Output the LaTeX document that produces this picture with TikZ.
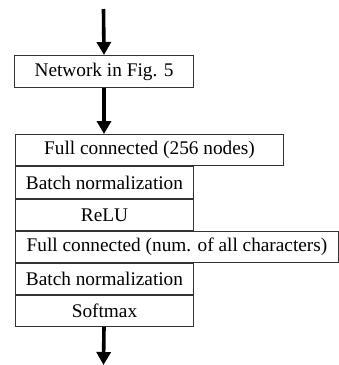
\documentclass[tikz,border=0pt]{standalone}
\usepackage{fontspec}
\setmainfont{Liberation Serif}
\usetikzlibrary{positioning, arrows.meta}

\begin{document}
\begin{tikzpicture}[
    x=1pt, y=1pt,
    layer/.style={draw=black!80, line width=1pt, rectangle, inner sep=0pt,
        minimum height=31pt, font=\fontsize{19.3}{22}\selectfont},
    flow/.style={-{Triangle[length=13pt, width=14pt]}, line width=3.6pt}
]
\useasboundingbox (0,0) rectangle (339,-365);

\node[layer, minimum width=179pt, minimum height=32pt, anchor=north west] (net)
    at (14,-55) {Network in Fig. 5};

\node[layer, minimum width=268pt, anchor=north west] (fcA) at (15,-134)
    {Full connected (256 nodes)};
\node[layer, minimum width=178pt, minimum height=32pt, below=0pt of fcA.south west, anchor=north west] (bnA)
    {Batch normalization};
\node[layer, minimum width=178pt, below=0pt of bnA.south west, anchor=north west] (relu)
    {ReLU};
\node[layer, minimum width=323pt, below=0pt of relu.south west, anchor=north west] (fcB)
    {Full connected (num. of all characters)};
\node[layer, minimum width=178pt, below=0pt of fcB.south west, anchor=north west] (bnB)
    {Batch normalization};
\node[layer, minimum width=178pt, below=0pt of bnB.south west, anchor=north west] (soft)
    {Softmax};

\coordinate (input) at (103.5,-9);
\coordinate (output) at (103.5,-365);

\draw[flow] (input) -- (net.north);
\draw[flow] (net.south) -- (net.south |- fcA.north);
\draw[flow] (soft.south -| net.south) -- (output);

\end{tikzpicture}
\end{document}
